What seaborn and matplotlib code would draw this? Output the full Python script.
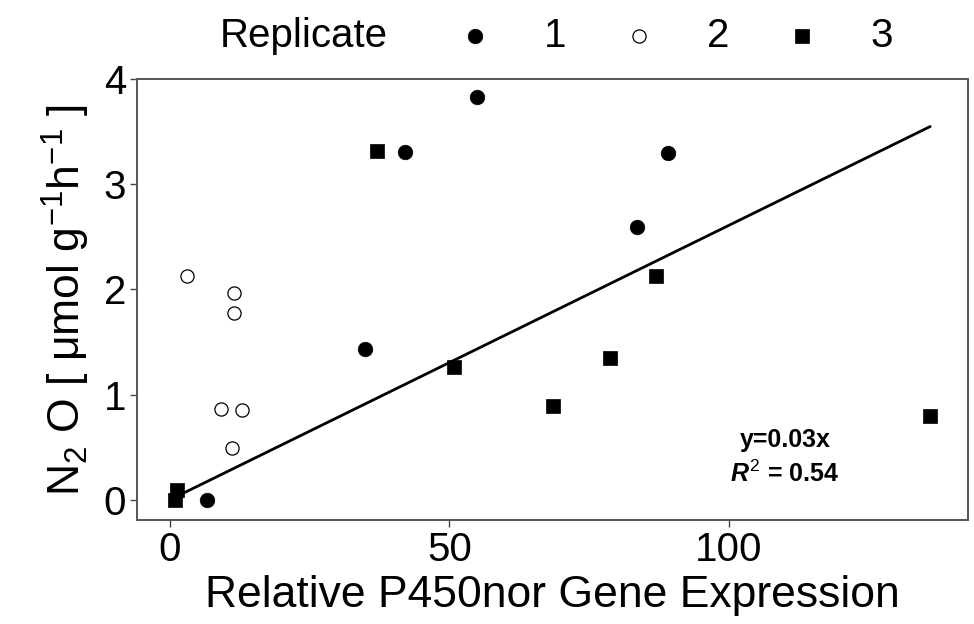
import matplotlib
matplotlib.use("Agg")
import matplotlib.pyplot as plt
import seaborn as sns
import numpy as np
import pandas as pd

# values
rep1_x = [55.0, 42.1, 35.0, 6.6, 89.1, 83.6]
rep1_y = [3.83, 3.31, 1.435, 0.0, 3.295, 2.59]
rep2_x = [3.1, 11.4, 11.4, 9.2, 13.0, 11.1]
rep2_y = [2.13, 1.97, 1.78, 0.867, 0.854, 0.489]
rep3_x = [37.0, 50.9, 68.6, 78.8, 87.0, 136.0, 1.3, 0.9]
rep3_y = [3.32, 1.26, 0.89, 1.35, 2.13, 0.80, 0.09, 0.0]

x_ticks = [0, 50, 100]
y_ticks = [0, 1, 2, 3, 4]
fit_label = "y=0.03x"
r2_label = r"$R^2$ = 0.54"

df = pd.DataFrame({
    "expr": rep1_x + rep2_x + rep3_x,
    "n2o": rep1_y + rep2_y + rep3_y,
    "Replicate": ["1"] * len(rep1_x) + ["2"] * len(rep2_x) + ["3"] * len(rep3_x),
})

sns.set_style("white")
plt.rcParams["font.family"] = ["Liberation Sans", "DejaVu Sans"]
plt.rcParams["mathtext.fontset"] = "custom"
plt.rcParams["mathtext.rm"] = "Liberation Sans"
plt.rcParams["mathtext.it"] = "Liberation Sans:italic:bold"
plt.rcParams["mathtext.bf"] = "Liberation Sans:bold"
plt.rcParams["text.color"] = "black"
plt.rcParams["axes.labelcolor"] = "black"
plt.rcParams["xtick.color"] = "black"
plt.rcParams["ytick.color"] = "black"

fig = plt.figure(figsize=(9.74, 6.24), dpi=100)
ax = fig.add_axes([0.1407, 0.1667, 0.8531, 0.7067])

styles = {
    "1": dict(marker="o", color="black", edgecolor="black", s=110, linewidth=0.5),
    "2": dict(marker="o", color="white", edgecolor="black", s=90, linewidth=0.9),
    "3": dict(marker="s", color="black", edgecolor="black", s=110, linewidth=0.5),
}
for rep, kw in styles.items():
    sub = df[df["Replicate"] == rep]
    sns.scatterplot(data=sub, x="expr", y="n2o", ax=ax, label=rep, zorder=3, **kw)

# linear fit through the origin
xv = df["expr"].to_numpy()
yv = df["n2o"].to_numpy()
slope = np.sum(xv * yv) / np.sum(xv * xv)
xs = np.array([xv.min(), xv.max()])
ax.plot(xs, slope * xs, color="black", linewidth=2.0, zorder=4)

ax.text(110, 0.57, fit_label, ha="center", va="center", fontsize=18, fontweight="bold")
ax.text(110, 0.25, r2_label, ha="center", va="center", fontsize=18, fontweight="bold")

rng_x = xv.max() - xv.min()
ax.set_xlim(xv.min() - 0.05 * rng_x, xv.max() + 0.05 * rng_x)
rng_y = yv.max() - yv.min()
ax.set_ylim(yv.min() - 0.05 * rng_y, 4.0)
ax.set_xticks(x_ticks)
ax.set_yticks(y_ticks)

ax.set_xlabel("Relative P450nor Gene Expression", fontsize=32, labelpad=4)
ax.set_ylabel(r"N$_2$ O [ μmol g$^{-1}$h$^{-1}$ ]", fontsize=32, labelpad=8)
ax.tick_params(axis="both", labelsize=29, length=5, width=1, color="#444444",
               labelcolor="black", direction="out", pad=3, bottom=True, left=True)
for sp in ax.spines.values():
    sp.set_color("#555555")
    sp.set_linewidth(1.4)

handles, labels = ax.get_legend_handles_labels()
ax.legend_.remove()
fig.text(220 / 974, 1 - 36 / 624, "Replicate", fontsize=29, ha="left", va="center")
fig.legend(handles, labels, loc="center left", bbox_to_anchor=(455 / 974, 1 - 36 / 624),
           ncol=3, frameon=False, fontsize=29, handlelength=1.0, handletextpad=1.2,
           columnspacing=1.3, borderpad=0, borderaxespad=0, markerscale=1.0)

fig.savefig("out.png", dpi=100)
plt.close(fig)
